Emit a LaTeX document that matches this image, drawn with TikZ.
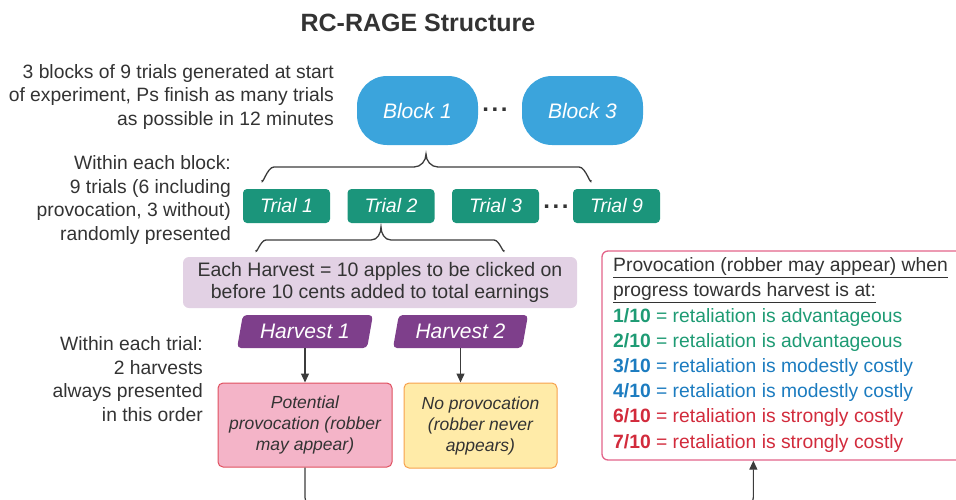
\documentclass[tikz,border=0pt]{standalone}
\usepackage{fontspec}
\setmainfont{Liberation Sans}
\usetikzlibrary{shapes.geometric,arrows.meta,calc}
\definecolor{tgray}{HTML}{333333}
\definecolor{lc}{HTML}{3C3C3C}
\definecolor{blockblue}{HTML}{3BA4DC}
\definecolor{trialgreen}{HTML}{1B957B}
\definecolor{lavender}{HTML}{E2D1E4}
\definecolor{hpurple}{HTML}{7E3F8B}
\definecolor{pinkfill}{HTML}{F4B4C8}
\definecolor{pinkdraw}{HTML}{E0505F}
\definecolor{yelfill}{HTML}{FFEBA8}
\definecolor{yeldraw}{HTML}{F7A14C}
\definecolor{provdraw}{HTML}{E3648A}
\definecolor{cgreen}{HTML}{1E9B74}
\definecolor{cblue}{HTML}{1C7CC0}
\definecolor{cred}{HTML}{D22B3C}
\begin{document}
\begin{tikzpicture}[x=1pt,y=-1pt,
  lefttext/.style={align=right, inner sep=0pt, anchor=east, text=tgray, font=\fontsize{19.3}{23.5}\selectfont},
  blockbox/.style={rectangle, rounded corners=30pt, fill=blockblue, text=white, minimum width=121pt, minimum height=69pt, font=\fontsize{21}{25}\selectfont\itshape},
  trialbox/.style={rectangle, rounded corners=4pt, fill=trialgreen, text=white, minimum width=87pt, minimum height=34pt, font=\fontsize{19.5}{23}\selectfont\itshape},
  harvbox/.style={trapezium, trapezium left angle=78, trapezium right angle=102, trapezium stretches=true, rounded corners=4pt, fill=hpurple, text=white, minimum height=33pt, font=\fontsize{21}{25}\selectfont\itshape},
  outbox/.style={rectangle, rounded corners=5pt, line width=1pt, align=center, text=tgray, font=\fontsize{17.5}{21}\selectfont\itshape},
  dots/.style={text=tgray, font=\fontsize{24}{26}\selectfont\bfseries, inner sep=0pt},
  bracestyle/.style={draw=lc, line width=1.3pt},
  arr/.style={draw=lc, line width=1.2pt, -{Triangle[length=9pt,width=8pt]}}
]
\useasboundingbox (0,0) rectangle (956,499);

\node[text=tgray, font=\fontsize{25}{30}\selectfont\bfseries] (title) at (418,23) {RC-RAGE Structure};

\node[lefttext] (lt1) at (334,97) {3 blocks of 9 trials generated at start\\of experiment, Ps finish as many trials\\as possible in 12 minutes};
\node[lefttext] (lt2) at (231,200) {Within each block:\\9 trials (6 including\\provocation, 3 without)\\randomly presented};
\node[lefttext] (lt3) at (203,379) {Within each trial:\\2 harvests\\always presented\\in this order};

\node[blockbox] (b1) at (417.5,110.5) {Block 1};
\node[blockbox] (b3) at (582.5,110.5) {Block 3};
\node[dots] (bd) at (495,110) {.\kern2.6pt.\kern2.6pt.};

\draw[bracestyle] (262,180) to[out=-90,in=180] (274,167) -- (414,167) to[out=0,in=-90] (426,154) to[out=-90,in=180] (438,167) -- (579,167) to[out=0,in=-90] (591,180);

\node[trialbox] (t1) at (286.5,206) {Trial 1};
\node[trialbox] (t2) at (391,206) {Trial 2};
\node[trialbox] (t3) at (495.5,206) {Trial 3};
\node[trialbox] (t9) at (616.5,206) {Trial 9};
\node[dots] (td) at (556,207) {.\kern2.6pt.\kern2.6pt.};

\draw[bracestyle] (256,250) to[out=-90,in=180] (266,240) -- (371,240) to[out=0,in=-90] (381,227) to[out=-90,in=180] (391,240) -- (494,240) to[out=0,in=-90] (504,250);

\node[rectangle, rounded corners=6pt, fill=lavender, minimum width=394pt, minimum height=51pt, align=center, text=tgray, font=\fontsize{19.5}{22}\selectfont] (info) at (380,282.5) {Each Harvest = 10 apples to be clicked on\\before 10 cents added to total earnings};

\node[harvbox, minimum width=136pt] (h1) at (305,331.5) {Harvest 1};
\node[harvbox, minimum width=135pt] (h2) at (460.5,331.5) {Harvest 2};

\node[outbox, fill=pinkfill, draw=pinkdraw, minimum width=174pt, minimum height=84pt] (pot) at (305,425) {Potential\\provocation (robber\\may appear)};
\node[outbox, fill=yelfill, draw=yeldraw, minimum width=153pt, minimum height=85pt] (nop) at (480.5,425.5) {No provocation\\(robber never\\appears)};

\draw[arr] (h1.south) -- (h1.south |- pot.north);
\draw[arr] (h2.south) -- (h2.south |- nop.north);

\node[rectangle, rounded corners=6pt, draw=provdraw, line width=1.3pt, fill=white, minimum width=370pt, minimum height=209pt] (prov) at (787,355.5) {};
\node[anchor=north west, align=left, inner sep=0pt, text=tgray, font=\fontsize{19.3}{25.2}\selectfont] (provtext) at (613,257.5) {%
\underline{Provocation (robber may appear) when}\\
\underline{progress towards harvest is at:}\\
{\color{cgreen}\textbf{1/10} = retaliation is advantageous}\\
{\color{cgreen}\textbf{2/10} = retaliation is advantageous}\\
{\color{cblue}\textbf{3/10} = retaliation is modestly costly}\\
{\color{cblue}\textbf{4/10} = retaliation is modestly costly}\\
{\color{cred}\textbf{6/10} = retaliation is strongly costly}\\
{\color{cred}\textbf{7/10} = retaliation is strongly costly}};

\coordinate (provin) at ($(prov.south west)+(152,0)$);
\draw[arr, rounded corners=10pt] (pot.south) -- ++(0,40) -| (provin);
\end{tikzpicture}
\end{document}
